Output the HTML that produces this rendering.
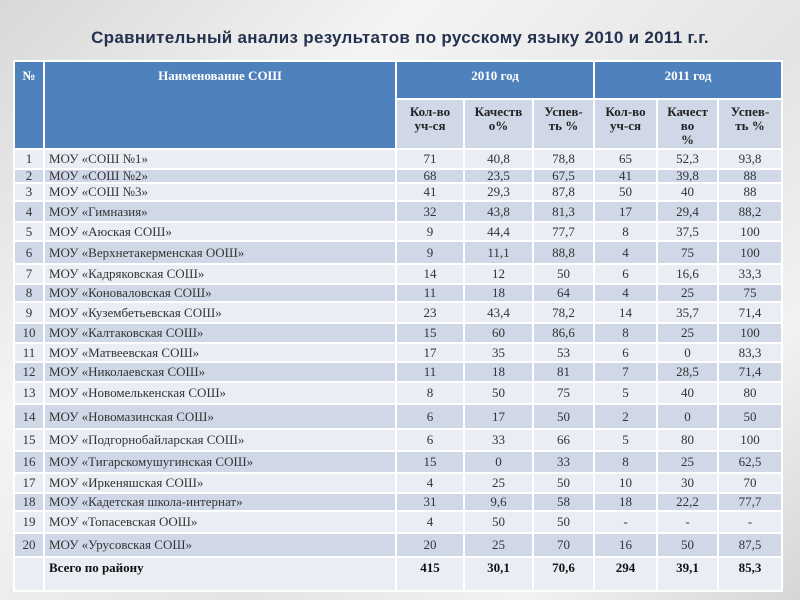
<!DOCTYPE html>
<html><head><meta charset="utf-8"><style>
body{margin:0;width:800px;height:600px;overflow:hidden;background:linear-gradient(135deg,#d8d8d8 0%,#f4f4f4 30%,#e4e4e4 60%,#f2f2f2 80%,#d6d6d6 100%);position:relative;font-family:"Liberation Serif",serif}
h1{position:absolute;left:0;top:28px;width:800px;text-align:center;margin:0;font:bold 17px "Liberation Sans",sans-serif;color:#24324f;letter-spacing:0.3px}
table{position:absolute;left:13px;top:60px;border-collapse:collapse;table-layout:fixed;width:768px}
td{border:2px solid #fff;padding:0 4px;font-size:13px;color:#333;vertical-align:middle;line-height:12px;text-align:center;overflow:hidden}
td.n{text-align:left}
tr.h td{background:#4f81bd;color:#fff;font-weight:bold;padding-top:8px;vertical-align:top}
tr.s td{background:#d0d8e8;color:#222;font-weight:bold;padding-top:5px;line-height:14px;vertical-align:top}
tr.a td{background:#e9edf4}
tr.b td{background:#d0d8e8}
tr.t td{background:#e9edf4;font-weight:bold;color:#111;padding-top:4px;vertical-align:top}
</style></head><body>
<h1>Сравнительный анализ результатов по русскому языку 2010 и 2011 г.г.</h1>
<table>
<colgroup><col style="width:30px"><col style="width:352px"><col style="width:68px"><col style="width:69px"><col style="width:61px"><col style="width:63px"><col style="width:61px"><col style="width:64px"></colgroup>
<tr class="h" style="height:38px"><td rowspan="2" style="background:#4f81bd;color:#fff">№</td><td rowspan="2" style="background:#4f81bd;color:#fff">Наименование СОШ</td><td colspan="3">2010 год</td><td colspan="3">2011 год</td></tr>
<tr class="s" style="height:50px"><td>Кол-во<br>уч-ся</td><td>Качеств<br>о%</td><td>Успев-<br>ть %</td><td>Кол-во<br>уч-ся</td><td>Качест<br>во<br>%</td><td>Успев-<br>ть %</td></tr>
<tr class="a" style="height:20px"><td>1</td><td class="n">МОУ «СОШ №1»</td><td>71</td><td>40,8</td><td>78,8</td><td>65</td><td>52,3</td><td>93,8</td></tr>
<tr class="b" style="height:14px"><td>2</td><td class="n">МОУ «СОШ №2»</td><td>68</td><td>23,5</td><td>67,5</td><td>41</td><td>39,8</td><td>88</td></tr>
<tr class="a" style="height:18px"><td>3</td><td class="n">МОУ «СОШ №3»</td><td>41</td><td>29,3</td><td>87,8</td><td>50</td><td>40</td><td>88</td></tr>
<tr class="b" style="height:21px"><td>4</td><td class="n">МОУ «Гимназия»</td><td>32</td><td>43,8</td><td>81,3</td><td>17</td><td>29,4</td><td>88,2</td></tr>
<tr class="a" style="height:19px"><td>5</td><td class="n">МОУ «Аюская СОШ»</td><td>9</td><td>44,4</td><td>77,7</td><td>8</td><td>37,5</td><td>100</td></tr>
<tr class="b" style="height:23px"><td>6</td><td class="n">МОУ «Верхнетакерменская ООШ»</td><td>9</td><td>11,1</td><td>88,8</td><td>4</td><td>75</td><td>100</td></tr>
<tr class="a" style="height:20px"><td>7</td><td class="n">МОУ «Кадряковская СОШ»</td><td>14</td><td>12</td><td>50</td><td>6</td><td>16,6</td><td>33,3</td></tr>
<tr class="b" style="height:18px"><td>8</td><td class="n">МОУ «Коноваловская СОШ»</td><td>11</td><td>18</td><td>64</td><td>4</td><td>25</td><td>75</td></tr>
<tr class="a" style="height:21px"><td>9</td><td class="n">МОУ «Кузембетьевская СОШ»</td><td>23</td><td>43,4</td><td>78,2</td><td>14</td><td>35,7</td><td>71,4</td></tr>
<tr class="b" style="height:20px"><td>10</td><td class="n">МОУ «Калтаковская СОШ»</td><td>15</td><td>60</td><td>86,6</td><td>8</td><td>25</td><td>100</td></tr>
<tr class="a" style="height:19px"><td>11</td><td class="n">МОУ «Матвеевская СОШ»</td><td>17</td><td>35</td><td>53</td><td>6</td><td>0</td><td>83,3</td></tr>
<tr class="b" style="height:20px"><td>12</td><td class="n">МОУ «Николаевская СОШ»</td><td>11</td><td>18</td><td>81</td><td>7</td><td>28,5</td><td>71,4</td></tr>
<tr class="a" style="height:22px"><td>13</td><td class="n">МОУ «Новомелькенская СОШ»</td><td>8</td><td>50</td><td>75</td><td>5</td><td>40</td><td>80</td></tr>
<tr class="b" style="height:25px"><td>14</td><td class="n">МОУ «Новомазинская СОШ»</td><td>6</td><td>17</td><td>50</td><td>2</td><td>0</td><td>50</td></tr>
<tr class="a" style="height:22px"><td>15</td><td class="n">МОУ «Подгорнобайларская СОШ»</td><td>6</td><td>33</td><td>66</td><td>5</td><td>80</td><td>100</td></tr>
<tr class="b" style="height:22px"><td>16</td><td class="n">МОУ «Тигарскомушугинская СОШ»</td><td>15</td><td>0</td><td>33</td><td>8</td><td>25</td><td>62,5</td></tr>
<tr class="a" style="height:20px"><td>17</td><td class="n">МОУ «Иркеняшская СОШ»</td><td>4</td><td>25</td><td>50</td><td>10</td><td>30</td><td>70</td></tr>
<tr class="b" style="height:18px"><td>18</td><td class="n">МОУ «Кадетская школа-интернат»</td><td>31</td><td>9,6</td><td>58</td><td>18</td><td>22,2</td><td>77,7</td></tr>
<tr class="a" style="height:22px"><td>19</td><td class="n">МОУ «Топасевская ООШ»</td><td>4</td><td>50</td><td>50</td><td>-</td><td>-</td><td>-</td></tr>
<tr class="b" style="height:24px"><td>20</td><td class="n">МОУ «Урусовская СОШ»</td><td>20</td><td>25</td><td>70</td><td>16</td><td>50</td><td>87,5</td></tr>
<tr class="t" style="height:34px"><td></td><td class="n">Всего по району</td><td>415</td><td>30,1</td><td>70,6</td><td>294</td><td>39,1</td><td>85,3</td></tr>
</table>
</body></html>
